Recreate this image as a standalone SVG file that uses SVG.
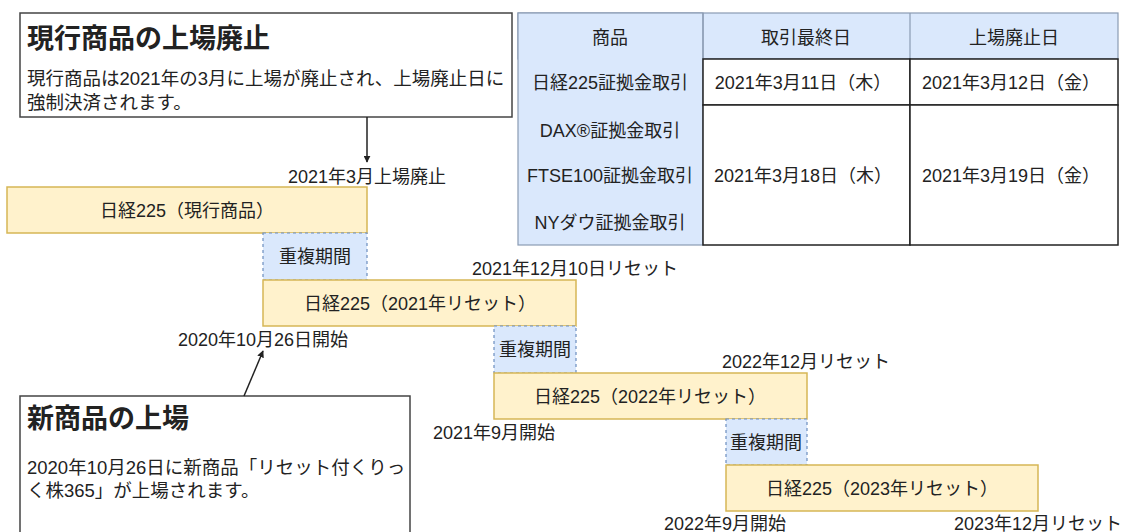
<svg xmlns="http://www.w3.org/2000/svg" width="1126" height="532" viewBox="0 0 1126 532">
<style>
text{font-family:'Liberation Sans','Noto Sans CJK JP',sans-serif;fill:#222;font-size:18px}
.c{text-anchor:middle}
.t{font-size:27px;font-weight:bold}
.b{font-size:18.5px}
.note{fill:#fff;stroke:#444;stroke-width:1.5}
.bar{fill:#fff2cc;stroke:#d6b656;stroke-width:1.5}
.ov{fill:#dae8fc;stroke:#6c8ebf;stroke-width:1.2;stroke-dasharray:3 3}
.hd{fill:#dae8fc;stroke:#8a9bb3;stroke-width:1.2}
.cell{fill:#fff;stroke:#222;stroke-width:1.5}
.conn{stroke:#222;stroke-width:1.5;fill:none}
</style>
<defs>
<marker id="ah" viewBox="0 0 10 10" refX="9" refY="5" markerWidth="7" markerHeight="7" orient="auto" markerUnits="userSpaceOnUse">
<path d="M0,0 L10,5 L0,10 z" fill="#222"/>
</marker>
</defs>
<g id="note-delist">
<rect class="note" x="20" y="13" width="492" height="104"/>
<text class="t" x="27" y="48">現行商品の上場廃止</text>
<text class="b" x="27" y="85">現行商品は2021年の3月に上場が廃止され、上場廃止日に</text>
<text class="b" x="27" y="109">強制決済されます。</text>
</g>
<g id="table">
<rect class="hd" x="518" y="13" width="600" height="46"/>
<rect class="hd" x="518" y="13" width="185" height="232"/>
<line x1="703" y1="13" x2="703" y2="59" stroke="#8a9bb3" stroke-width="1.2"/>
<line x1="910" y1="13" x2="910" y2="59" stroke="#8a9bb3" stroke-width="1.2"/>
<rect class="cell" x="703" y="59" width="207" height="46"/>
<rect class="cell" x="910" y="59" width="208" height="46"/>
<rect class="cell" x="703" y="105" width="207" height="140"/>
<rect class="cell" x="910" y="105" width="208" height="140"/>
<text class="c" x="610" y="44">商品</text>
<text class="c" x="806" y="44">取引最終日</text>
<text class="c" x="1014" y="44">上場廃止日</text>
<text class="c" x="610" y="89">日経225証拠金取引</text>
<text class="c" x="610" y="137">DAX®証拠金取引</text>
<text class="c" x="610" y="182">FTSE100証拠金取引</text>
<text class="c" x="610" y="229">NYダウ証拠金取引</text>
<text class="c" x="803" y="89">2021年3月11日（木）</text>
<text class="c" x="1011" y="89">2021年3月12日（金）</text>
<text class="c" x="803" y="182">2021年3月18日（木）</text>
<text class="c" x="1011" y="182">2021年3月19日（金）</text>
</g>
<g id="bar-current">
<rect class="bar" x="7" y="187" width="360" height="46"/>
<text class="c" x="187" y="217">日経225（現行商品）</text>
<text class="c" x="367" y="183">2021年3月上場廃止</text>
</g>
<g id="overlap-1">
<rect class="ov" x="263" y="233" width="104" height="47"/>
<text class="c" x="315" y="263">重複期間</text>
</g>
<g id="bar-2021">
<rect class="bar" x="263" y="280" width="313" height="46"/>
<text class="c" x="420" y="310">日経225（2021年リセット）</text>
<text class="c" x="575" y="275">2021年12月10日リセット</text>
<text class="c" x="263" y="346">2020年10月26日開始</text>
</g>
<g id="overlap-2">
<rect class="ov" x="494" y="326" width="82" height="47"/>
<text class="c" x="535" y="356">重複期間</text>
</g>
<g id="bar-2022">
<rect class="bar" x="494" y="373" width="313" height="46"/>
<text class="c" x="650" y="403">日経225（2022年リセット）</text>
<text class="c" x="806" y="368">2022年12月リセット</text>
<text class="c" x="494" y="439">2021年9月開始</text>
</g>
<g id="overlap-3">
<rect class="ov" x="726" y="419" width="81" height="46"/>
<text class="c" x="766" y="449">重複期間</text>
</g>
<g id="bar-2023">
<rect class="bar" x="726" y="465" width="312" height="46"/>
<text class="c" x="882" y="495">日経225（2023年リセット）</text>
<text class="c" x="725" y="530">2022年9月開始</text>
<text class="c" x="1038" y="530">2023年12月リセット</text>
</g>
<g id="note-listing">
<rect class="note" x="20" y="396" width="390" height="160"/>
<text class="t" x="27" y="428">新商品の上場</text>
<text class="b" x="27" y="474">2020年10月26日に新商品「リセット付くりっ</text>
<text class="b" x="27" y="497">く株365」が上場されます。</text>
</g>
<g id="connectors">
<line class="conn" x1="367" y1="117" x2="367" y2="162" marker-end="url(#ah)"/>
<line class="conn" x1="244" y1="396" x2="263" y2="351" marker-end="url(#ah)"/>
</g>
</svg>
